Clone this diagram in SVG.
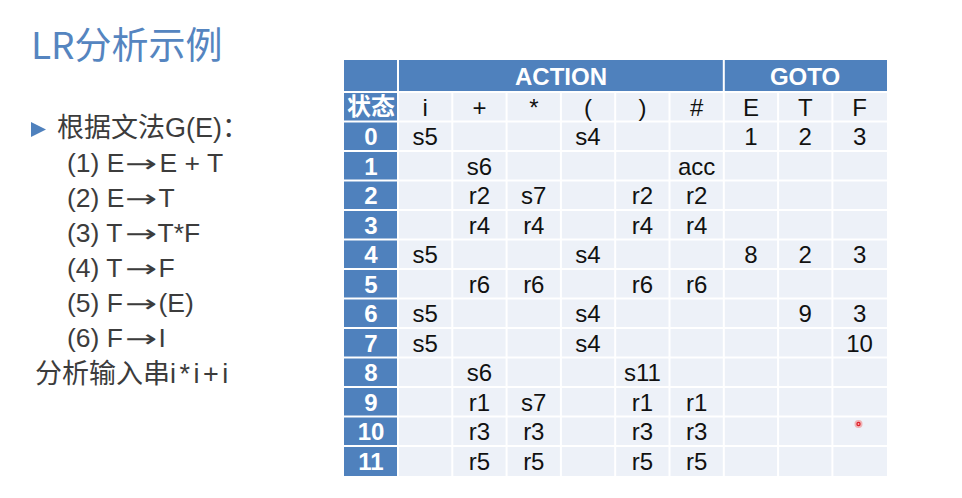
<svg xmlns="http://www.w3.org/2000/svg" width="962" height="498" viewBox="0 0 962 498">
<style>
.title{font-family:"Noto Sans CJK SC","Liberation Sans",sans-serif;font-size:37px;fill:#5585C0}
.body{font-family:"Liberation Sans","Noto Sans CJK SC",sans-serif;font-size:26.5px;fill:#3C3C3C}
.ar{font-family:"DejaVu Sans",sans-serif;font-size:24px;fill:#3C3C3C}
.cjk{font-family:"Liberation Sans","Noto Sans CJK SC",sans-serif;font-size:27px;fill:#3C3C3C}
.lat{letter-spacing:3.5px}
.hd{fill:#4F81BD}
.cell{fill:#EDF1F8}
.grid{stroke:#FFFFFF;stroke-width:2;fill:none}
.hdt{font-family:"Liberation Sans",sans-serif;font-weight:bold;font-size:24px;fill:#FFFFFF;text-anchor:middle}
.rn{font-family:"Liberation Sans",sans-serif;font-weight:bold;font-size:24px;fill:#FFFFFF;text-anchor:middle}
.st{font-family:"Noto Sans CJK SC",sans-serif;font-weight:bold;font-size:24px;fill:#FFFFFF;text-anchor:middle}
.c{font-family:"Liberation Sans",sans-serif;font-size:24px;fill:#111111;text-anchor:middle}
</style>
<rect width="962" height="498" fill="#FFFFFF"/>
<g id="left-text">
<text class="title" x="31" y="59">LR分析示例</text>
<polygon points="31,122 46,129.5 31,137" fill="#4F81BD"/>
<text class="cjk" x="57" y="137">根据文法G(E)：</text>
<text class="body" x="67" y="172">(1) E</text>
<text class="ar" transform="translate(125,172) scale(1.6,1)">→</text>
<text class="body" x="159.5" y="172">E + T</text>
<text class="body" x="67" y="207">(2) E</text>
<text class="ar" transform="translate(125,207) scale(1.6,1)">→</text>
<text class="body" x="158.5" y="207">T</text>
<text class="body" x="67" y="242">(3) T</text>
<text class="ar" transform="translate(125,242) scale(1.6,1)">→</text>
<text class="body" x="157.5" y="242">T*F</text>
<text class="body" x="67" y="277">(4) T</text>
<text class="ar" transform="translate(125,277) scale(1.6,1)">→</text>
<text class="body" x="158.5" y="277">F</text>
<text class="body" x="67" y="312">(5) F</text>
<text class="ar" transform="translate(125,312) scale(1.6,1)">→</text>
<text class="body" x="158.5" y="312">(E)</text>
<text class="body" x="67" y="347">(6) F</text>
<text class="ar" transform="translate(125,347) scale(1.6,1)">→</text>
<text class="body" x="158.5" y="347">I</text>
<text class="cjk" x="35" y="383">分析输入串<tspan class="lat">i*i+i</tspan></text>
</g>
<g id="table">
<rect class="cell" x="344" y="60" width="543" height="416"/>
<rect class="hd" x="344" y="60" width="543" height="32"/>
<rect class="hd" x="344" y="60" width="54" height="416"/>
<g class="grid">
<line x1="344" y1="92" x2="887" y2="92"/>
<line x1="344" y1="121.5" x2="887" y2="121.5"/>
<line x1="344" y1="151" x2="887" y2="151"/>
<line x1="344" y1="180.5" x2="887" y2="180.5"/>
<line x1="344" y1="210" x2="887" y2="210"/>
<line x1="344" y1="239.5" x2="887" y2="239.5"/>
<line x1="344" y1="269" x2="887" y2="269"/>
<line x1="344" y1="298.5" x2="887" y2="298.5"/>
<line x1="344" y1="328" x2="887" y2="328"/>
<line x1="344" y1="357.5" x2="887" y2="357.5"/>
<line x1="344" y1="387" x2="887" y2="387"/>
<line x1="344" y1="416.5" x2="887" y2="416.5"/>
<line x1="344" y1="446" x2="887" y2="446"/>
<line x1="398" y1="60" x2="398" y2="476"/>
<line x1="452.3" y1="92" x2="452.3" y2="476"/>
<line x1="506.6" y1="92" x2="506.6" y2="476"/>
<line x1="560.9" y1="92" x2="560.9" y2="476"/>
<line x1="615.2" y1="92" x2="615.2" y2="476"/>
<line x1="669.5" y1="92" x2="669.5" y2="476"/>
<line x1="723.8" y1="60" x2="723.8" y2="476"/>
<line x1="778.1" y1="92" x2="778.1" y2="476"/>
<line x1="832.4" y1="92" x2="832.4" y2="476"/>
</g>
<g id="header">
<text class="hdt" x="561" y="84.5">ACTION</text>
<text class="hdt" x="805" y="84.5">GOTO</text>
<text class="st" x="371" y="115">状态</text>
<text class="c" x="425.2" y="115.5">i</text>
<text class="c" x="479.5" y="115.5">+</text>
<text class="c" x="533.8" y="115.5">*</text>
<text class="c" x="588" y="115.5">(</text>
<text class="c" x="642.4" y="115.5">)</text>
<text class="c" x="696.7" y="115.5">#</text>
<text class="c" x="751" y="115.5">E</text>
<text class="c" x="805.3" y="115.5">T</text>
<text class="c" x="859.6" y="115.5">F</text>
</g>
<g id="row-0"><text class="rn" x="371" y="145">0</text><text class="c" x="425.2" y="145">s5</text><text class="c" x="588" y="145">s4</text><text class="c" x="751" y="145">1</text><text class="c" x="805.3" y="145">2</text><text class="c" x="859.6" y="145">3</text></g>
<g id="row-1"><text class="rn" x="371" y="174.5">1</text><text class="c" x="479.5" y="174.5">s6</text><text class="c" x="696.7" y="174.5">acc</text></g>
<g id="row-2"><text class="rn" x="371" y="204">2</text><text class="c" x="479.5" y="204">r2</text><text class="c" x="533.8" y="204">s7</text><text class="c" x="642.4" y="204">r2</text><text class="c" x="696.7" y="204">r2</text></g>
<g id="row-3"><text class="rn" x="371" y="233.5">3</text><text class="c" x="479.5" y="233.5">r4</text><text class="c" x="533.8" y="233.5">r4</text><text class="c" x="642.4" y="233.5">r4</text><text class="c" x="696.7" y="233.5">r4</text></g>
<g id="row-4"><text class="rn" x="371" y="263">4</text><text class="c" x="425.2" y="263">s5</text><text class="c" x="588" y="263">s4</text><text class="c" x="751" y="263">8</text><text class="c" x="805.3" y="263">2</text><text class="c" x="859.6" y="263">3</text></g>
<g id="row-5"><text class="rn" x="371" y="292.5">5</text><text class="c" x="479.5" y="292.5">r6</text><text class="c" x="533.8" y="292.5">r6</text><text class="c" x="642.4" y="292.5">r6</text><text class="c" x="696.7" y="292.5">r6</text></g>
<g id="row-6"><text class="rn" x="371" y="322">6</text><text class="c" x="425.2" y="322">s5</text><text class="c" x="588" y="322">s4</text><text class="c" x="805.3" y="322">9</text><text class="c" x="859.6" y="322">3</text></g>
<g id="row-7"><text class="rn" x="371" y="351.5">7</text><text class="c" x="425.2" y="351.5">s5</text><text class="c" x="588" y="351.5">s4</text><text class="c" x="859.6" y="351.5">10</text></g>
<g id="row-8"><text class="rn" x="371" y="381">8</text><text class="c" x="479.5" y="381">s6</text><text class="c" x="642.4" y="381">s11</text></g>
<g id="row-9"><text class="rn" x="371" y="410.5">9</text><text class="c" x="479.5" y="410.5">r1</text><text class="c" x="533.8" y="410.5">s7</text><text class="c" x="642.4" y="410.5">r1</text><text class="c" x="696.7" y="410.5">r1</text></g>
<g id="row-10"><text class="rn" x="371" y="440">10</text><text class="c" x="479.5" y="440">r3</text><text class="c" x="533.8" y="440">r3</text><text class="c" x="642.4" y="440">r3</text><text class="c" x="696.7" y="440">r3</text></g>
<g id="row-11"><text class="rn" x="371" y="469.5">11</text><text class="c" x="479.5" y="469.5">r5</text><text class="c" x="533.8" y="469.5">r5</text><text class="c" x="642.4" y="469.5">r5</text><text class="c" x="696.7" y="469.5">r5</text></g>
</g>
<g id="cursor">
<circle cx="858.5" cy="424" r="4" fill="#F28A8A" opacity="0.6"/>
<circle cx="858.5" cy="424" r="2.2" fill="#E0202A"/>
<circle cx="858.5" cy="424" r="0.9" fill="#F6B0B0"/>
</g>
</svg>
